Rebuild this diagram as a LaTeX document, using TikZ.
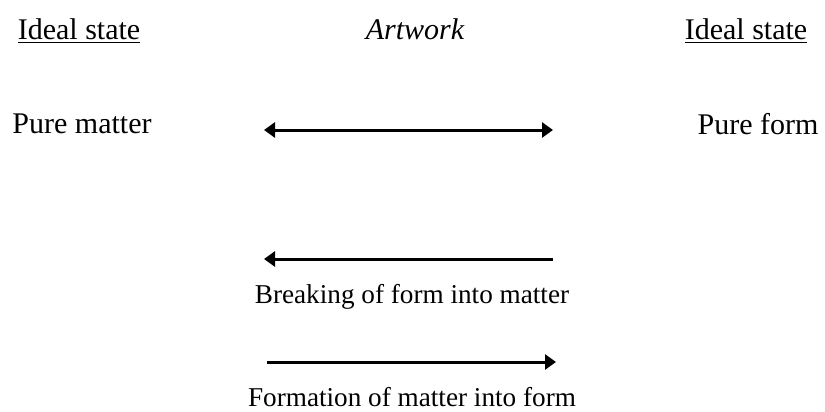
\documentclass[tikz,border=0pt]{standalone}
\usepackage{fontspec}
\setmainfont{Liberation Serif}
\usetikzlibrary{arrows.meta,positioning}
\begin{document}
\begin{tikzpicture}[x=0.5pt,y=-0.5pt]
    \tikzstyle{label} = [inner sep=0pt, font=\fontsize{15}{17}\selectfont]
    \tikzstyle{caption} = [inner sep=0pt, font=\fontsize{13.6}{16}\selectfont]
    \tikzstyle{arrow} = [line width=1.5pt,-{Triangle[length=5.5pt,width=7.5pt]}]
    \useasboundingbox (0,0) rectangle (825,412);

    \node (idealL) [label] at (79,31) {\underline{Ideal state}};
    \node (art) [label] at (415,29) {\itshape Artwork};
    \node (idealR) [label] at (746,31) {\underline{Ideal state}};
    \node (matter) [label] at (82,124) {Pure matter};
    \node (form) [label] at (758,124) {Pure form};

    \coordinate (a1) at (264,130);
    \coordinate (b1) at (553,130);
    \coordinate (a2) at (264,259);
    \coordinate (b2) at (553,259);
    \coordinate (a3) at (267,362);
    \coordinate (b3) at (556,362);

    \draw [arrow, {Triangle[length=5.5pt,width=7.5pt]}-{Triangle[length=5.5pt,width=7.5pt]}] (a1) -- (b1);
    \draw [arrow] (b2) -- (a2);
    \draw [arrow] (a3) -- (b3);

    \node (breaking) [caption] at (412,297) {Breaking of form into matter};
    \node (formation) [caption] at (412,397) {Formation of matter into form};
\end{tikzpicture}
\end{document}
